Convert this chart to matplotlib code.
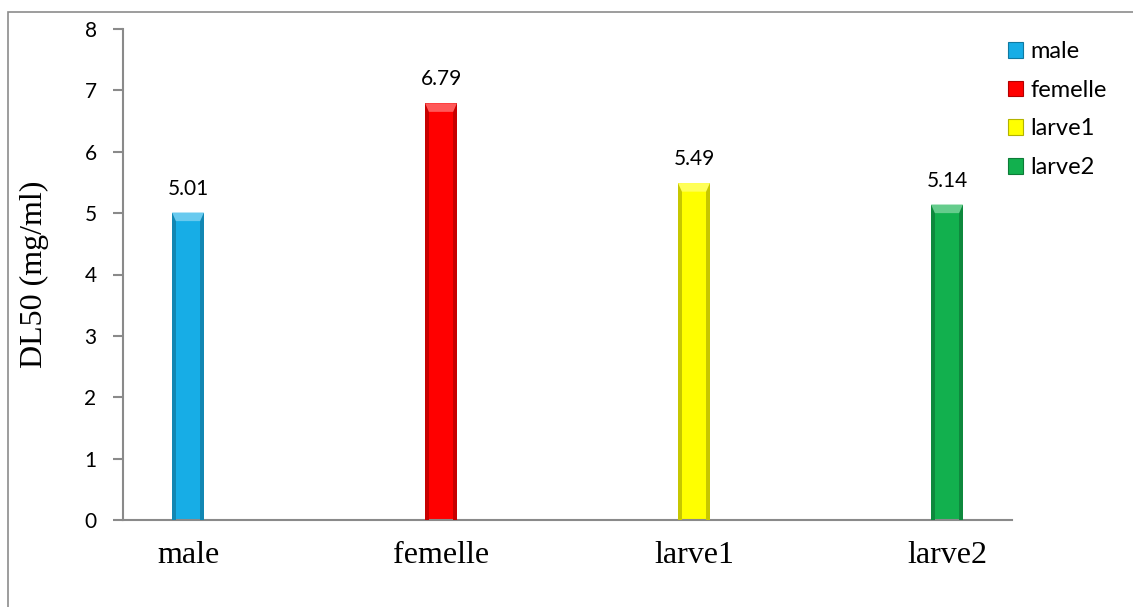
import numpy as np
import matplotlib.pyplot as plt
from matplotlib.patches import Rectangle, Polygon
from matplotlib.colors import to_rgb

groups = ['male', 'femelle', 'larve1', 'larve2']
dl50 = [5.01, 6.79, 5.49, 5.14]
colors = ['#17ADE6', '#FF0000', '#FFFF00', '#12B04E']
yticks = [0, 1, 2, 3, 4, 5, 6, 7, 8]

sans = ['Lato', 'DejaVu Sans']
serif = ['Liberation Serif', 'DejaVu Serif']
axis_grey = '#8a8a8a'


def shade(c, f):
    r, g, b = to_rgb(c)
    if f < 0:
        return (r * (1 + f), g * (1 + f), b * (1 + f))
    return (r + (1 - r) * f, g + (1 - g) * f, b + (1 - b) * f)


fig = plt.figure(figsize=(11.33, 6.07), dpi=100)
ax = fig.add_axes([123 / 1133, 1 - 520 / 607, 889 / 1133, 491 / 607])

x = np.arange(len(groups))
w = 0.126
cap = 0.14   # height of the bevelled top in data units

ax.bar(x, dl50, width=w, color=colors, zorder=2)
# darker strips on both sides give the bars a rounded look
for xi, v, c in zip(x, dl50, colors):
    ax.bar(xi - w / 2 + w * 0.06, v, width=w * 0.12, color=shade(c, -0.22), zorder=3, linewidth=0)
    ax.bar(xi + w / 2 - w * 0.06, v, width=w * 0.12, color=shade(c, -0.22), zorder=3, linewidth=0)
    top = Polygon([(xi - w / 2, v), (xi + w / 2, v),
                   (xi + w / 2 - w * 0.12, v - cap), (xi - w / 2 + w * 0.12, v - cap)],
                  closed=True, facecolor=shade(c, 0.35), edgecolor='none', zorder=4)
    ax.add_patch(top)
    ax.annotate(f'{v:.2f}', (xi, v), xytext=(0, 10), textcoords='offset points',
                ha='center', va='bottom', fontsize=15, family=sans)

ax.set_xlim(-0.257, 3.257)
ax.set_ylim(0, 8)
ax.set_yticks(yticks)
ax.set_xticks(x)
ax.set_xticklabels(groups, family=serif, fontsize=23)
ax.tick_params(axis='x', length=0, pad=15)
ax.tick_params(axis='y', length=7, width=1.5, color=axis_grey, pad=12, labelsize=15)
for lab in ax.get_yticklabels():
    lab.set_family(sans)

for side in ['top', 'right']:
    ax.spines[side].set_visible(False)
ax.spines['left'].set_color(axis_grey)
ax.spines['bottom'].set_color(axis_grey)
ax.spines['left'].set_linewidth(1.5)
ax.spines['bottom'].set_linewidth(1.5)

ax.set_ylabel('DL50 (mg/ml)', family=serif, fontsize=23)
ax.yaxis.set_label_coords(-0.083, 0.5)

handles = [Rectangle((0, 0), 1, 1, facecolor=c, edgecolor=shade(c, -0.3), linewidth=0.8) for c in colors]
fig.legend(handles, groups, loc='upper left', bbox_to_anchor=(1008 / 1133, 1 - 41 / 607),
           frameon=False, prop={'family': sans, 'size': 17},
           handlelength=0.65, handleheight=0.65, handletextpad=0.3,
           labelspacing=0.75, borderpad=0, borderaxespad=0)

# outer frame of the chart area
fig.patches.append(Rectangle((8 / 1133, -0.05), 1.1, 1 - 12 / 607 + 0.05,
                             transform=fig.transFigure, fill=False,
                             edgecolor='#8c8c8c', linewidth=1.2))

fig.savefig('out.png', dpi=100)
